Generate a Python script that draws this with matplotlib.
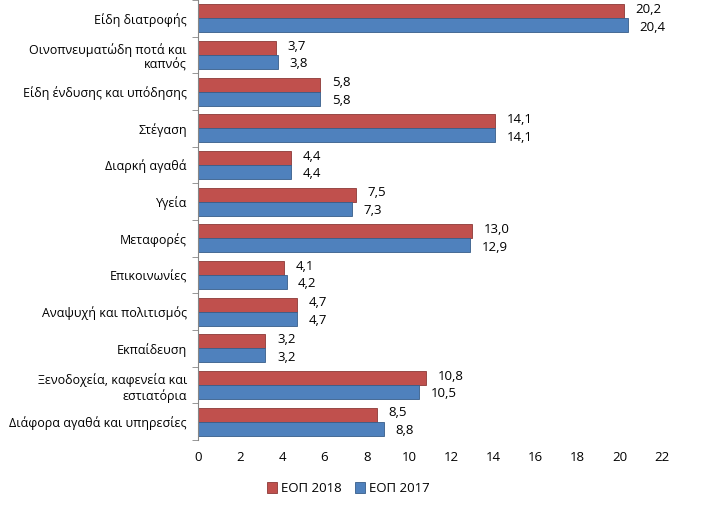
import numpy as np
import matplotlib
matplotlib.use("Agg")
import matplotlib.pyplot as plt

plt.rcParams['font.family'] = ['Open Sans', 'DejaVu Sans']

# Datos
categorias = [
    "Είδη διατροφής",
    "Οινοπνευματώδη ποτά και\nκαπνός",
    "Είδη ένδυσης και υπόδησης",
    "Στέγαση",
    "Διαρκή αγαθά",
    "Υγεία",
    "Μεταφορές",
    "Επικοινωνίες",
    "Αναψυχή και πολιτισμός",
    "Εκπαίδευση",
    "Ξενοδοχεία, καφενεία και\nεστιατόρια",
    "Διάφορα αγαθά και υπηρεσίες",
]
eop_2018 = [20.2, 3.7, 5.8, 14.1, 4.4, 7.5, 13.0, 4.1, 4.7, 3.2, 10.8, 8.5]
eop_2017 = [20.4, 3.8, 5.8, 14.1, 4.4, 7.3, 12.9, 4.2, 4.7, 3.2, 10.5, 8.8]
xticks = list(range(0, 23, 2))

ROJO = "#C0504D"
AZUL = "#4F81BD"

fig = plt.figure(figsize=(7.11, 5.07), dpi=100)
ax = fig.add_axes([0.2785, 0.132, 0.6525, 0.868])

y = np.arange(len(categorias))
h = 0.38
ax.barh(y - h / 2, eop_2018, height=h, color=ROJO, edgecolor="#8C3836", linewidth=0.6, label="ΕΟΠ 2018")
ax.barh(y + h / 2, eop_2017, height=h, color=AZUL, edgecolor="#385D8A", linewidth=0.6, label="ΕΟΠ 2017")

def fmt(v):
    return f"{v:.1f}".replace(".", ",")

for i in range(len(categorias)):
    ax.text(eop_2018[i] + 0.55, y[i] - h / 2 - 0.05, fmt(eop_2018[i]), va="center", ha="left", fontsize=9.5)
    ax.text(eop_2017[i] + 0.55, y[i] + h / 2 + 0.05, fmt(eop_2017[i]), va="center", ha="left", fontsize=9.5)

ax.set_ylim(len(categorias) - 0.5, -0.5)
ax.set_xlim(0, 22)
ax.set_xticks(xticks)
ax.set_xticklabels([str(t) for t in xticks], fontsize=9.5)
ax.set_yticks(y)
ax.set_yticklabels(categorias, fontsize=9)
ax.set_yticks(np.arange(-0.5, len(categorias), 1), minor=True)
ax.tick_params(axis="y", which="major", length=0, pad=8)
ax.tick_params(axis="y", which="minor", length=4, color="#868686")
ax.tick_params(axis="x", length=0, pad=8)

for s in ["top", "right", "bottom"]:
    ax.spines[s].set_visible(False)
ax.spines["left"].set_color("#868686")

fig.legend(loc="lower center", bbox_to_anchor=(0.49, 0.0), ncol=2, frameon=False,
           fontsize=9.5, handlelength=0.8, handleheight=0.8, handletextpad=0.3, columnspacing=1.0)

plt.savefig("out.png", dpi=100)
